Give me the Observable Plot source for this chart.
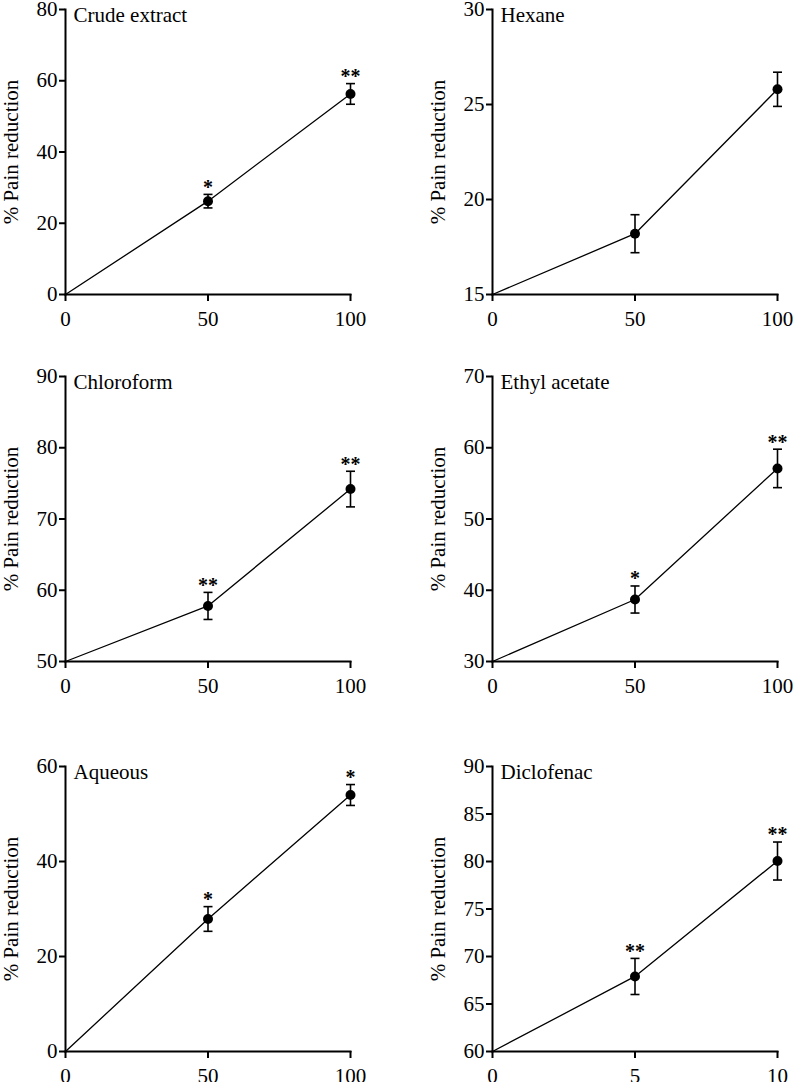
<!DOCTYPE html>
<html><head><meta charset="utf-8">
<script src="https://cdn.jsdelivr.net/npm/d3@7"></script>
<script src="https://cdn.jsdelivr.net/npm/@observablehq/plot@0.6"></script>
<style>
html,body{margin:0;padding:0;background:#fff;overflow:hidden;}
#root{position:relative;width:796px;height:1082px;}
#root > div{position:absolute;}
#root svg{overflow:visible;}
</style></head><body><div id="root"></div>
<script>
// ---- data ----
const titles = ["Crude extract", "Hexane", "Chloroform", "Ethyl acetate", "Aqueous", "Diclofenac"];
const yLabel = "% Pain reduction";
const extractDoses = [0, 50, 100];
const diclofenacDoses = [0, 5, 10];

const crudeMean = [0, 26.2, 56.3];
const crudeSem = [0, 1.9, 2.9];
const crudeStars = ["", "*", "**"];

const hexaneMean = [15, 18.2, 25.8];
const hexaneSem = [0, 1.0, 0.9];
const hexaneStars = ["", "", ""];

const chloroformMean = [50, 57.8, 74.2];
const chloroformSem = [0, 1.9, 2.5];
const chloroformStars = ["", "**", "**"];

const ethylMean = [30, 38.7, 57.1];
const ethylSem = [0, 1.9, 2.7];
const ethylStars = ["", "*", "**"];

const aqueousMean = [0, 27.9, 54.0];
const aqueousSem = [0, 2.6, 2.2];
const aqueousStars = ["", "*", "*"];

const diclofenacMean = [60, 67.9, 80.05];
const diclofenacSem = [0, 1.9, 2.0];
const diclofenacStars = ["", "**", "**"];

const yDomains = [[0, 80], [15, 30], [50, 90], [30, 70], [0, 60], [60, 90]];
const yTicks = [
  [0, 20, 40, 60, 80],
  [15, 20, 25, 30],
  [50, 60, 70, 80, 90],
  [30, 40, 50, 60, 70],
  [0, 20, 40, 60],
  [60, 65, 70, 75, 80, 85, 90]
];

// ---- drawing ----
const capSymbol = {
  draw(ctx, size) {
    const r = Math.sqrt(size / Math.PI);
    ctx.moveTo(-r, 0);
    ctx.lineTo(r, 0);
  }
};

function panel(i, doses, mean, sem, stars, left) {
  const data = doses.map((d, j) => ({dose: d, mean: mean[j], sem: sem[j], star: stars[j]}));
  const bars = data.filter(d => d.sem > 0);
  return Plot.plot({
    width: 398,
    height: 331,
    marginTop: 10,
    marginBottom: 36,
    marginLeft: left ? 65 : 94,
    marginRight: left ? 48 : 19,
    style: {fontFamily: "'Liberation Serif', 'Times New Roman', serif", fontSize: "21px", color: "black", background: "transparent"},
    x: {domain: [doses[0], doses[doses.length - 1]]},
    y: {domain: yDomains[i]},
    marks: [
      Plot.line(data, {x: "dose", y: "mean", stroke: "black", strokeWidth: 1.3}),
      Plot.link(bars, {x1: "dose", x2: "dose", y1: d => d.mean - d.sem, y2: d => d.mean + d.sem, stroke: "black", strokeWidth: 1.6}),
      Plot.dot(bars, {x: "dose", y: d => d.mean - d.sem, symbol: capSymbol, r: 4.5, fill: "none", stroke: "black", strokeWidth: 1.6}),
      Plot.dot(bars, {x: "dose", y: d => d.mean + d.sem, symbol: capSymbol, r: 4.5, fill: "none", stroke: "black", strokeWidth: 1.6}),
      Plot.dot(bars, {x: "dose", y: "mean", r: 5, fill: "black", stroke: "none"}),
      Plot.text(bars, {x: "dose", y: d => d.mean + d.sem, text: "star", fontWeight: "bold", fontSize: 20, lineAnchor: "middle", dy: -7}),
      Plot.text([titles[i]], {frameAnchor: "top-left", text: d => d, textAnchor: "start", lineAnchor: "top", dx: 8, dy: -2}),
      Plot.axisY({ticks: yTicks[i], tickSize: 6, tickPadding: 2, tickFormat: d => String(d), strokeWidth: 2,
        label: yLabel, labelAnchor: "center", labelArrow: "none", labelOffset: 62}),
      Plot.axisX({ticks: doses, tickSize: 7, tickPadding: 10, tickFormat: d => String(d), strokeWidth: 2, label: null}),
      Plot.frame({anchor: "left", strokeWidth: 2}),
      Plot.frame({anchor: "bottom", strokeWidth: 2})
    ]
  });
}

const root = document.getElementById("root");
const specs = [
  [0, extractDoses, crudeMean, crudeSem, crudeStars, true, 0, -1],
  [1, extractDoses, hexaneMean, hexaneSem, hexaneStars, false, 398, -1],
  [2, extractDoses, chloroformMean, chloroformSem, chloroformStars, true, 0, 366],
  [3, extractDoses, ethylMean, ethylSem, ethylStars, false, 398, 366],
  [4, extractDoses, aqueousMean, aqueousSem, aqueousStars, true, 0, 755.5],
  [5, diclofenacDoses, diclofenacMean, diclofenacSem, diclofenacStars, false, 398, 755.5]
];
for (const [i, doses, m, s, st, left, px, py] of specs) {
  const wrap = document.createElement("div");
  wrap.style.left = px + "px";
  wrap.style.top = py + "px";
  wrap.appendChild(panel(i, doses, m, s, st, left));
  root.appendChild(wrap);
}
</script>
</body></html>
